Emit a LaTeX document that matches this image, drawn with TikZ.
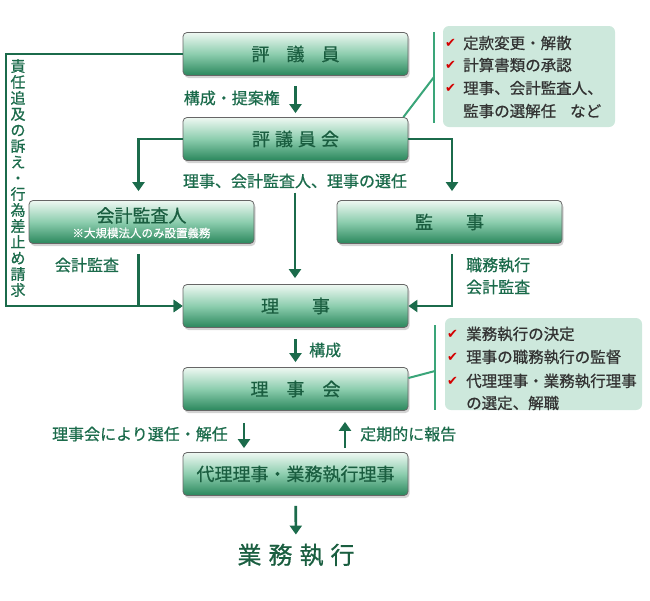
\documentclass[tikz,border=0pt]{standalone}
\usepackage{fontspec}
\setmainfont{Noto Sans CJK JP}[FakeBold=0.7]
\newfontfamily\symfont{DejaVu Sans}
\usetikzlibrary{shadows,arrows.meta}
\definecolor{dg}{HTML}{1B6B4B}
\definecolor{tg}{HTML}{1A5E40}
\definecolor{bl}{HTML}{3AA579}
\definecolor{cf}{HTML}{CDE8DC}
\definecolor{btop}{HTML}{EEF8F2}
\definecolor{bmid}{HTML}{8CCDAE}
\definecolor{bbot}{HTML}{2A875C}
\definecolor{ck}{HTML}{D40000}
\begin{document}
\begin{tikzpicture}[x=1pt,y=-1pt,
 box/.style={draw=black!60, line width=0.8pt, rounded corners=4pt, minimum width=225pt, minimum height=43pt, top color=btop, bottom color=bbot, middle color=bmid, drop shadow={opacity=0.35,shadow xshift=1.5pt,shadow yshift=-2.5pt}, text=tg, font=\fontsize{18pt}{20pt}\selectfont, inner sep=0pt},
 boxtext/.style={text=tg, font=\fontsize{18pt}{20pt}\selectfont, inner sep=0pt},
 subtext/.style={text=white, font=\fontsize{11.5pt}{13pt}\selectfont, inner sep=0pt},
 conn/.style={draw=dg, line width=2.6pt},
 arr/.style={conn, -{Triangle[width=12pt,length=9pt]}},
 lbl/.style={text=dg, font=\fontsize{16pt}{17pt}\selectfont, inner sep=0pt},
 callout/.style={fill=cf, rounded corners=6pt, draw=none},
 bracket/.style={draw=bl, line width=2pt},
 ctext/.style={text=black!80, font=\fontsize{15.5pt}{17pt}\selectfont, anchor=west, inner sep=0pt},
 tick/.style={text=ck, font=\symfont\fontsize{13pt}{13pt}\selectfont, anchor=west, inner sep=0pt}
]
\useasboundingbox (0,0) rectangle (650,600);

% callouts (behind)
\node[callout, minimum width=172pt, minimum height=101pt] (c1) at (529,76.5) {};
\node[callout, minimum width=197pt, minimum height=92pt] (c2) at (543.5,364) {};

% boxes
\node[box] (hy) at (295.5,54) {評\hspace{17pt}議\hspace{17pt}員};
\node[box] (hyk) at (295.5,139) {評\hspace{5pt}議\hspace{5pt}員\hspace{5pt}会};
\node[box] (kk) at (141.5,222) {};
\node[boxtext] (kkt) at (141.5,215.5) {会計監査人};
\node[subtext] (kks) at (141.5,233) {※大規模法人のみ設置義務};
\node[box] (ks) at (449.5,222) {監\hspace{33pt}事};
\node[box] (ri) at (295.5,306) {理\hspace{33pt}事};
\node[box] (rik) at (295.5,389) {理\hspace{18pt}事\hspace{18pt}会};
\node[box] (dai) at (295.5,474) {代理理事・業務執行理事};
\node[text=tg, font=\fontsize{24pt}{26pt}\selectfont, inner sep=0pt] (gy) at (296,555) {業\hspace{7pt}務\hspace{7pt}執\hspace{7pt}行};

% labels
\node[lbl, anchor=east] (kosei) at (280,98) {構成・提案権};
\node[lbl] (sen) at (295,181) {理事、会計監査人、理事の選任};
\node[lbl] (kkl) at (87,265) {会計監査};
\node[lbl, anchor=west] (ksl1) at (466,265) {職務執行};
\node[lbl, anchor=west] (ksl2) at (466,287) {会計監査};
\node[lbl, anchor=west] (kosei2) at (309,350) {構成};
\node[lbl, anchor=east] (senkai) at (228,434) {理事会により選任・解任};
\node[lbl, anchor=west] (hokoku) at (360,434) {定期的に報告};
\node[text=dg, font=\fontsize{15pt}{16pt}\selectfont, align=center, inner sep=0pt] (vt) at (18,178)
 {責\\任\\追\\及\\の\\訴\\え\\・\\行\\為\\差\\止\\め\\請\\求};

% connectors
\draw[arr, shorten <=10pt, shorten >=4pt] (hy) -- (hyk);
\draw[arr, shorten >=9pt] (hyk.west) -| ([xshift=-3pt]kk.north);
\draw[arr, shorten >=9pt] (hyk.east) -| ([xshift=2.5pt]ks.north);
\draw[arr, shorten <=4pt, shorten >=6pt] (sen.south) -- (sen.south |- ri.north);
\coordinate (oc) at (6,306);
\draw[arr] (hy.west) -| (oc) -- (ri.west);
\draw[arr, shorten <=10pt] ([xshift=-3pt]kk.south) |- (ri.west);
\draw[arr, shorten <=10pt] ([xshift=2.5pt]ks.south) |- (ri.east);
\draw[arr, shorten <=11pt, shorten >=5pt] (ri) -- (rik);
\draw[arr, shorten <=12pt, shorten >=4pt] ([xshift=-51.5pt]rik.south) -- ([xshift=-51.5pt]dai.north);
\draw[arr, shorten <=4pt, shorten >=11pt] ([xshift=49.5pt]dai.north) -- ([xshift=49.5pt]rik.south);
\draw[arr, shorten <=10pt, shorten >=9pt] (dai) -- (gy);

% brackets
\coordinate (b1t) at (434,32);
\coordinate (b1b) at (434,123);
\coordinate (b1m) at (434,77);
\draw[bracket] (b1t) -- (b1b);
\draw[bracket] ([xshift=-5pt]hyk.north east) -- (b1m);
\coordinate (b2t) at (435,325);
\coordinate (b2b) at (435,410);
\coordinate (b2m) at (435,371);
\draw[bracket] (b2t) -- (b2b);
\draw[bracket] ([yshift=11pt]rik.east) -- (b2m);

% callout texts
\node[tick] (t11) at (445,43) {✔};
\node[ctext] (c11) at (463,43) {定款変更・解散};
\node[tick] (t12) at (445,65) {✔};
\node[ctext] (c12) at (463,65) {計算書類の承認};
\node[tick] (t13) at (445,88) {✔};
\node[ctext] (c13) at (463,88) {理事、会計監査人、};
\node[ctext] (c14) at (463,111) {監事の選解任\hspace{14pt}など};
\node[tick] (t21) at (447,334) {✔};
\node[ctext] (c21) at (466,334) {業務執行の決定};
\node[tick] (t22) at (447,357) {✔};
\node[ctext] (c22) at (466,357) {理事の職務執行の監督};
\node[tick] (t23) at (447,381) {✔};
\node[ctext] (c23) at (466,381) {代理理事・業務執行理事};
\node[ctext] (c24) at (466,403) {の選定、解職};
\end{tikzpicture}
\end{document}
